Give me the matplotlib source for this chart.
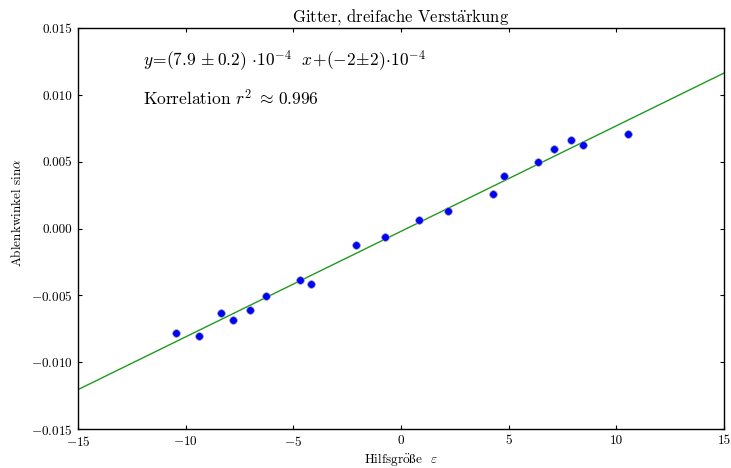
import numpy as np
import matplotlib
matplotlib.use("Agg")
import matplotlib.pyplot as plt

# Messwerte: Hilfsgröße epsilon und Ablenkwinkel sin(alpha)
eps = [-10.44, -9.40, -8.35, -7.80, -7.03, -6.26, -4.67, -4.16, -2.07, -0.75,
       0.83, 2.16, 4.27, 4.77, 6.35, 7.12, 7.90, 8.44, 10.53]
sin_alpha = [-0.00780, -0.00807, -0.00632, -0.00682, -0.00612, -0.00507,
             -0.00383, -0.00413, -0.00126, -0.00061, 0.00064, 0.00131,
             0.00260, 0.00398, 0.00497, 0.00597, 0.00667, 0.00630, 0.00705]

# Ergebnis der linearen Regression
slope = 7.9e-4
intercept = -2e-4

xlim = (-15, 15)
ylim = (-0.015, 0.015)
xticks = [-15, -10, -5, 0, 5, 10, 15]
yticks = [-0.015, -0.010, -0.005, 0.000, 0.005, 0.010, 0.015]

plt.rcParams.update({
    "font.family": ["cmr10", "DejaVu Serif"],
    "mathtext.fontset": "cm",
    "axes.formatter.use_mathtext": True,
    "xtick.direction": "in",
    "ytick.direction": "in",
    "xtick.top": True,
    "ytick.right": True,
    "xtick.major.size": 3,
    "ytick.major.size": 3,
    "axes.linewidth": 1.0,
})

fig = plt.figure(figsize=(7.31, 4.68), dpi=100)
ax = fig.add_axes([0.1067, 0.0833, 0.8837, 0.8562])

xs = np.array(xlim)
ax.plot(xs, slope * xs + intercept, color="#209a20", lw=1.0, zorder=2)
ax.plot(eps, sin_alpha, "o", color="#0000ff", markersize=5.5,
        markeredgecolor="0.6", markeredgewidth=0.5, zorder=3)

ax.set_xlim(*xlim)
ax.set_ylim(*ylim)
ax.set_xticks(xticks)
ax.set_yticks(yticks)
ax.set_yticklabels([("$-$" if v < 0 else "") + f"{abs(v):.3f}" for v in yticks])
ax.set_xticklabels([("$-$" if v < 0 else "") + f"{abs(v)}" for v in xticks])
ax.tick_params(labelsize=9.5, pad=4)

ax.set_title(r"Gitter, dreifache Verst$\mathrm{\ddot{a}}$rkung", fontsize=12, pad=5)
ax.set_xlabel(r"Hilfsgr$\mathrm{\ddot{o}\ss}$e  $\varepsilon$", fontsize=9.5, labelpad=2)
ax.set_ylabel(r"Ablenkwinkel $\sin\!\alpha$", fontsize=9.5)
ax.yaxis.set_label_coords(-0.084, 0.54)

ax.text(-12, 0.0122,
        r"$y\!=\!(7.9\,\pm0.2)\,\cdot\!10^{-4}\ \ x\!+\!(-2\!\pm\!2)\!\cdot\!10^{-4}$",
        fontsize=12.5, va="baseline")
ax.text(-12, 0.0092, r"Korrelation $r^2\;\approx\,0.996$",
        fontsize=12.5, va="baseline")

fig.savefig("out.png", dpi=100, facecolor="white")
